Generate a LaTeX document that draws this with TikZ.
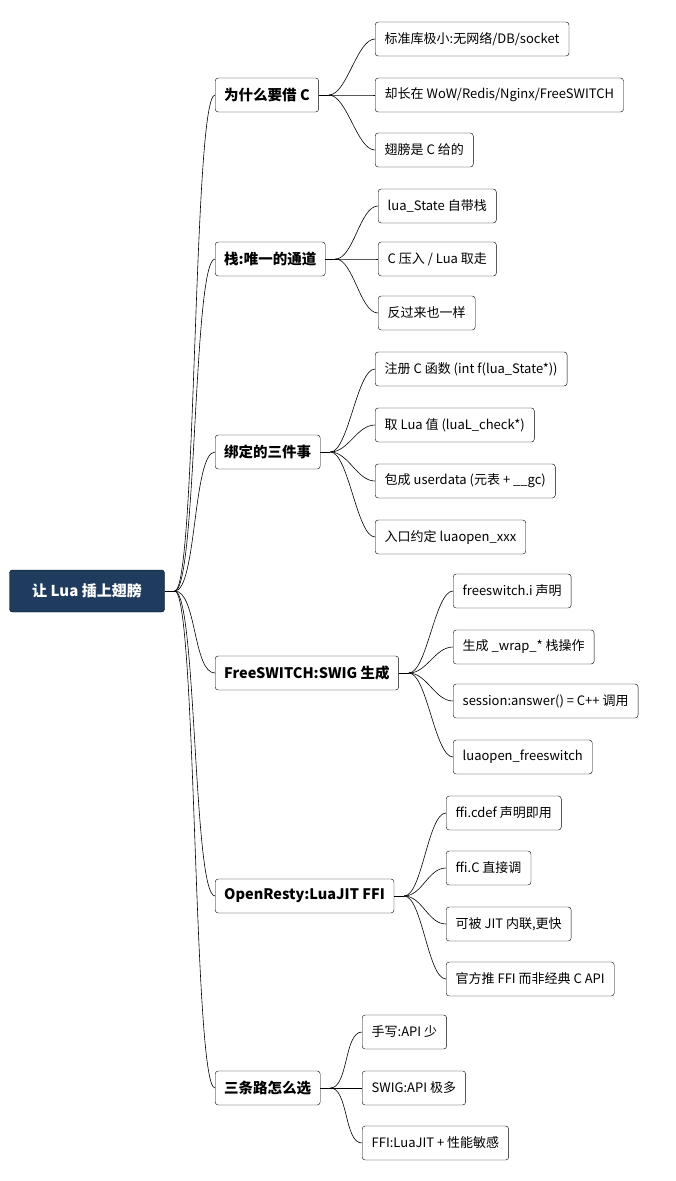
\documentclass[tikz,border=0pt]{standalone}
\usepackage{fontspec}
\setmainfont{Noto Sans CJK SC}
\usetikzlibrary{positioning}
\definecolor{rootBlue}{HTML}{1F3B5E}
\begin{document}
\begin{tikzpicture}[
        x=1pt, y=-1pt,
        rootNode/.style={rectangle, rounded corners=3pt, draw=black, fill=rootBlue, text=white, font=\fontsize{15}{17}\selectfont\bfseries, minimum height=42pt, minimum width=155pt, inner sep=9pt},
        branchNode/.style={rectangle, rounded corners=3pt, draw=black, fill=white, font=\fontsize{14.5}{16}\selectfont\bfseries, minimum height=34pt, inner sep=9pt, anchor=west},
        leafNode/.style={rectangle, rounded corners=3pt, draw=black, fill=white, font=\fontsize{13}{15}\selectfont, minimum height=34pt, inner sep=9.5pt, anchor=west},
        link/.style={draw=black, line width=0.6pt}
    ]
        \useasboundingbox (0,0) rectangle (676,1181);

        % Root node
        \node[rootNode] (root) at (87,591) {让 Lua 插上翅膀};

        % Branches
        \node[branchNode] (why) at (215,95) {为什么要借 C};
        \node[branchNode] (stack) at (215,259) {栈:唯一的通道};
        \node[branchNode] (bind) at (215,452) {绑定的三件事};
        \node[branchNode] (swig) at (215,673) {FreeSWITCH:SWIG 生成};
        \node[branchNode] (ffi) at (215,896) {OpenResty:LuaJIT FFI};
        \node[branchNode] (pick) at (215,1088) {三条路怎么选};

        % Leaves
        \node[leafNode] (why1) at (375,39) {标准库极小:无网络/DB/socket};
        \node[leafNode] (why2) at (375,95) {却长在 WoW/Redis/Nginx/FreeSWITCH};
        \node[leafNode] (why3) at (375,150) {翅膀是 C 给的};

        \node[leafNode] (stack1) at (378,206) {lua\_State 自带栈};
        \node[leafNode] (stack2) at (378,259) {C 压入 / Lua 取走};
        \node[leafNode] (stack3) at (378,313) {反过来也一样};

        \node[leafNode] (bind1) at (375,369) {注册 C 函数 (int f(lua\_State*))};
        \node[leafNode] (bind2) at (375,425) {取 Lua 值 (luaL\_check*)};
        \node[leafNode] (bind3) at (375,481) {包成 userdata (元表 + \_\_gc)};
        \node[leafNode] (bind4) at (375,537) {入口约定 luaopen\_xxx};

        \node[leafNode] (swig1) at (453,591) {freeswitch.i 声明};
        \node[leafNode] (swig2) at (453,647) {生成 \_wrap\_* 栈操作};
        \node[leafNode] (swig3) at (453,701) {session:answer() = C++ 调用};
        \node[leafNode] (swig4) at (453,757) {luaopen\_freeswitch};

        \node[leafNode] (ffi1) at (446,813) {ffi.cdef 声明即用};
        \node[leafNode] (ffi2) at (446,868) {ffi.C 直接调};
        \node[leafNode] (ffi3) at (446,924) {可被 JIT 内联,更快};
        \node[leafNode] (ffi4) at (446,979) {官方推 FFI 而非经典 C API};

        \node[leafNode] (pick1) at (362,1032) {手写:API 少};
        \node[leafNode] (pick2) at (362,1088) {SWIG:API 极多};
        \node[leafNode] (pick3) at (362,1143) {FFI:LuaJIT + 性能敏感};

        % Edges
        \coordinate[right=10pt of root.east] (rootOut);
        \draw[link] (root.east) -- (rootOut);
        \foreach \b in {why,stack,bind,swig,ffi,pick}
            \draw[link] (rootOut) .. controls +(22,0) and +(-22,0) .. (\b.west);

        \foreach \b/\leaves in {why/{why1,why2,why3}, stack/{stack1,stack2,stack3}, bind/{bind1,bind2,bind3,bind4}, swig/{swig1,swig2,swig3,swig4}, ffi/{ffi1,ffi2,ffi3,ffi4}, pick/{pick1,pick2,pick3}}{
            \coordinate[right=10pt of \b.east] (\b Out);
            \draw[link] (\b.east) -- (\b Out);
            \foreach \l in \leaves
                \draw[link] (\b Out) .. controls +(18,0) and +(-18,0) .. (\l.west);
        }
    \end{tikzpicture}
\end{document}
